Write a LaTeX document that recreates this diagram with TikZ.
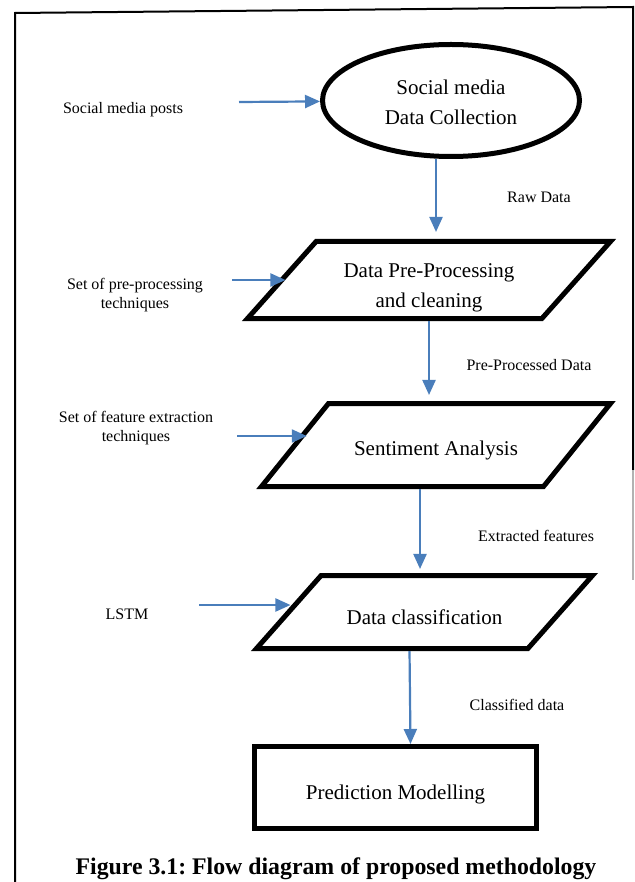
\documentclass[tikz,border=0pt]{standalone}
\usepackage{fontspec}
\setmainfont{Liberation Serif}
\usetikzlibrary{shapes.geometric}
\usetikzlibrary{arrows.meta}
\definecolor{flowblue}{RGB}{74,126,187}

\begin{document}
\begin{tikzpicture}[x=1pt,y=-1pt,
	box/.style={draw,line width=5pt,align=center,inner sep=0pt,font=\fontsize{21}{30}\selectfont},
	para/.style={box,trapezium,trapezium stretches body=true},
	lbl/.style={align=center,font=\fontsize{16}{19}\selectfont},
	flow/.style={flowblue,line width=2.2pt,-{Triangle[length=15pt,width=13pt]}}]
		\useasboundingbox (0,0) rectangle (634,882);
		\draw[line width=2pt] (15,882) -- (15,13) -- (633,7) -- (633,470);
		\draw[line width=2pt,black!30] (633,470) -- (633,580);
		\path (451,100.5) node(collect)[box,ellipse,minimum width=257pt,minimum height=112pt,text height=49pt,text depth=0pt]{Social media\\Data Collection}
		(429,280) node(prep)[para,trapezium left angle=48.3,trapezium right angle=131.7,minimum width=363pt,text height=65.5pt,text depth=11.5pt]{Data Pre-Processing\\and cleaning}
		(436,445) node(senti)[para,trapezium left angle=51.1,trapezium right angle=128.9,minimum width=349pt,text height=51.5pt,text depth=31.5pt]{Sentiment Analysis}
		(424.5,612) node(classify)[para,trapezium left angle=48.5,trapezium right angle=131.5,minimum width=336pt,text height=48.5pt,text depth=24.5pt]{Data classification}
		(395.5,787.5) node(predict)[box,minimum width=282pt,minimum height=82pt,text height=23pt,text depth=0pt]{Prediction Modelling};
		\path (123,110) node(posts)[lbl]{Social media posts}
		(539,197) node(raw)[lbl]{Raw Data}
		(135,295.5) node(pretech)[lbl]{Set of pre-processing\\techniques}
		(529,365) node(preproc)[lbl]{Pre-Processed Data}
		(136,428) node(feattech)[lbl]{Set of feature extraction\\techniques}
		(536,536) node(features)[lbl]{Extracted features}
		(127,614) node(lstm)[lbl]{LSTM}
		(517,705) node(classified)[lbl]{Classified data}
		(336,869) node(caption)[font=\fontsize{23.8}{28}\selectfont\bfseries\frenchspacing]{Figure 3.1: Flow diagram of proposed methodology};
		\coordinate (in0) at (239,102);
		\coordinate (in1) at (232,280);
		\coordinate (in2) at (237,436);
		\coordinate (in3) at (199,605);
		\coordinate (rawout) at ([xshift=-15pt]collect.south);
		\coordinate (sentiout) at ([xshift=-16pt]senti.south);
		\coordinate (classout) at ([xshift=-15pt]classify.south);
		\coordinate (predin) at ([xshift=15pt]predict.north);
		\draw[flow] (in0) to (collect);
		\draw[flow,shorten >=-7pt] (in1) to (in1 -| prep.left side);
		\draw[flow,shorten >=-15pt] (in2) to (in2 -| senti.left side);
		\draw[flow,shorten >=-5pt] (in3) to (in3 -| classify.left side);
		\draw[flow,shorten >=7pt] (rawout) to (rawout |- prep.north);
		\draw[flow,shorten >=6pt] (prep.south) to (prep.south |- senti.north);
		\draw[flow,shorten >=4pt] (sentiout) to (sentiout |- classify.north);
		\draw[flow] (classout) to (predin);
	\end{tikzpicture}
\end{document}
